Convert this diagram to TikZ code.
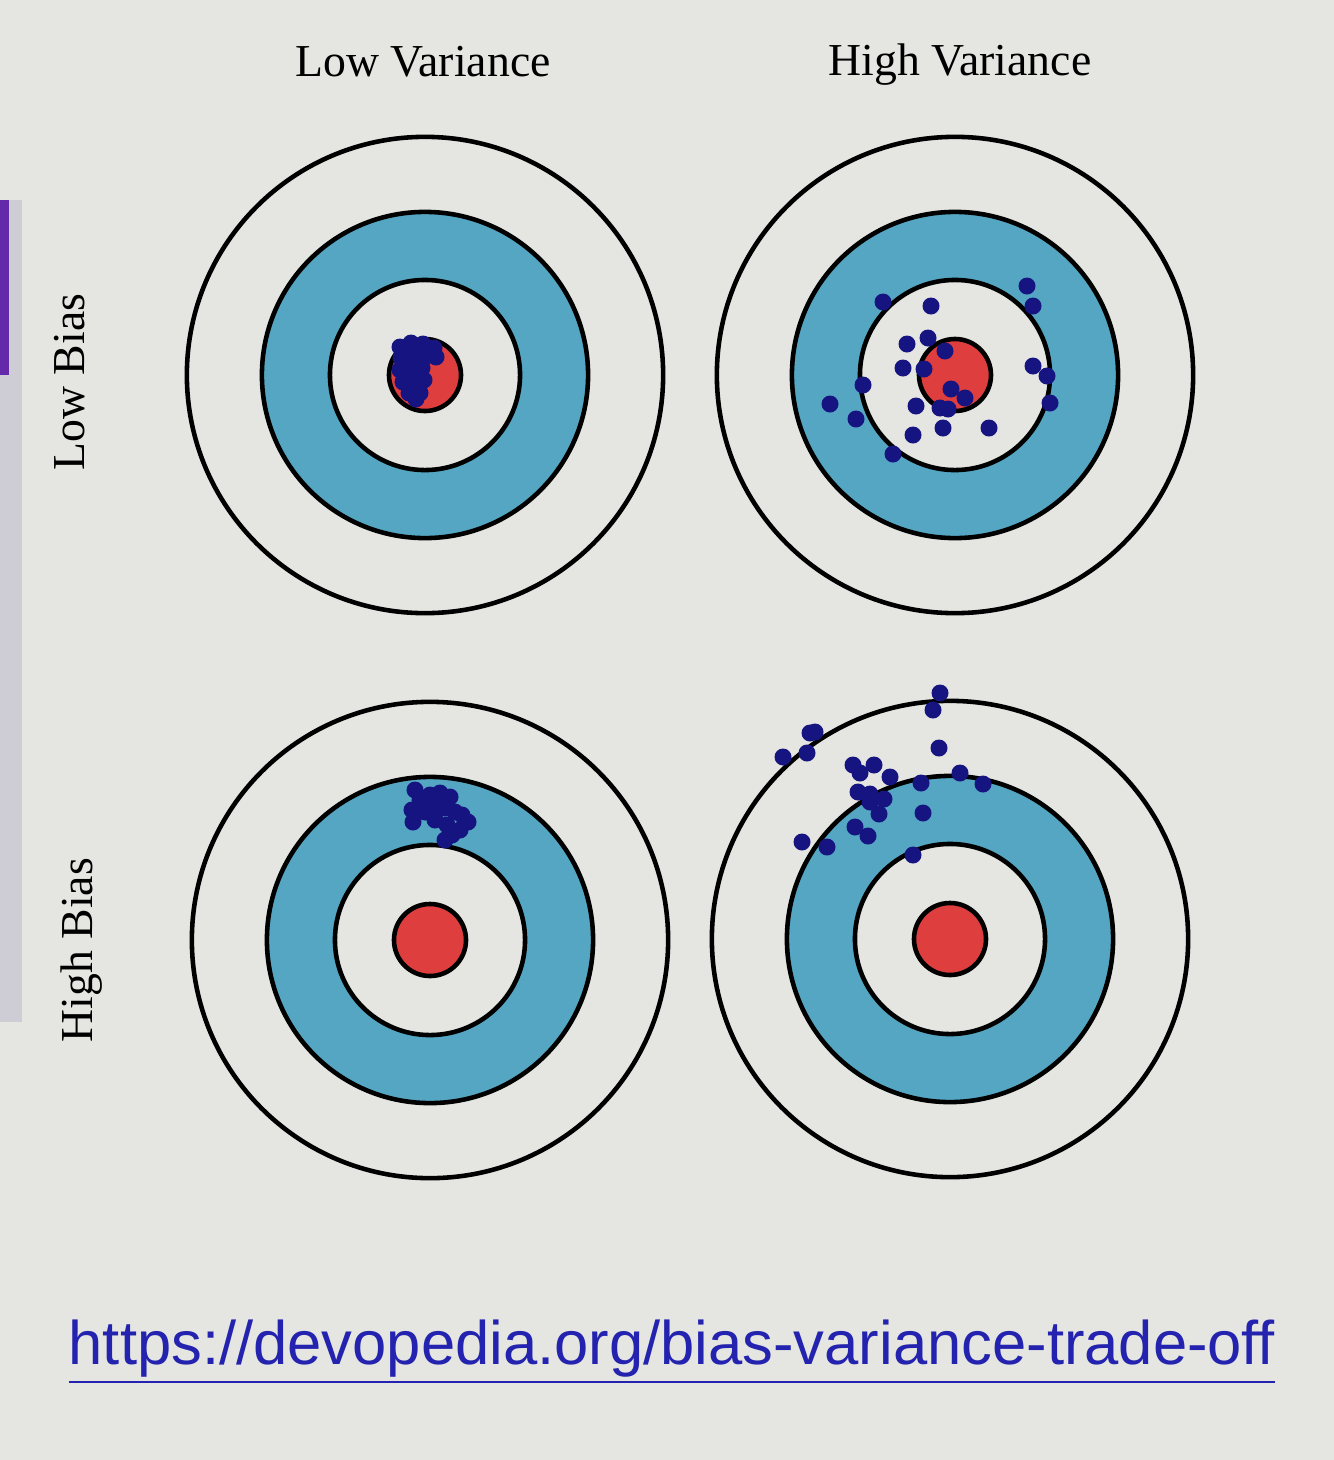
\documentclass[tikz,border=0pt]{standalone}
\usepackage{fontspec}
\setmainfont{Liberation Serif}
\newfontfamily\urlfont{Liberation Sans}
\usepackage{xcolor}
\definecolor{screengray}{RGB}{229,229,225}
\definecolor{ringblue}{RGB}{84,166,194}
\definecolor{bullred}{RGB}{222,62,62}
\definecolor{shotblue}{RGB}{22,20,128}
\definecolor{linkblue}{RGB}{35,35,175}
\definecolor{sidepurple}{RGB}{100,40,170}
\definecolor{sidegray}{RGB}{206,204,212}
\usetikzlibrary{positioning}

\begin{document}
\begin{tikzpicture}[
    x=0.01cm, y=-0.01cm,
    ring/.style={draw=black, line width=1.3pt},
    shot/.style={circle, fill=shotblue, inner sep=0pt, minimum size=0.17cm},
    axislabel/.style={font=\fontsize{13}{15}\selectfont, text=black}
  ]

  %% Screen background
  \fill[screengray] (0,0) rectangle (1334,1460);
  \useasboundingbox (0,0) rectangle (1334,1460);
  \fill[sidegray] (0,200) rectangle (22,1022);
  \fill[sidepurple] (0,200) rectangle (9,375);

  %% Targets
  \foreach \t/\cx/\cy in {tl/425/375, tr/955/375, bl/430/940, br/950/939} {
    \coordinate (\t) at (\cx,\cy);
    \draw[ring, fill=screengray] (\t) circle[radius=2.38cm];
    \draw[ring, fill=ringblue] (\t) circle[radius=1.63cm];
    \draw[ring, fill=screengray] (\t) circle[radius=0.95cm];
    \draw[ring, fill=bullred] (\t) circle[radius=0.36cm];
  }

  %% Low bias, low variance
  \foreach \p [count=\i] in {(400,347),(411,343),(423,344),(434,348),
      (401,358),(413,356),(425,357),(436,357),(400,370),(411,368),
      (422,368),(403,382),(415,380),(424,380),(409,393),(420,393),(416,399)}
    \node[shot] (tlshot\i) at \p {};

  %% Low bias, high variance
  \foreach \p [count=\i] in {(883,302),(931,306),(1027,286),(1033,306),
      (907,344),(928,338),(945,351),(903,368),(924,369),(1033,366),
      (1047,376),(863,385),(951,389),(965,398),(830,404),(1050,403),
      (916,406),(940,408),(948,409),(856,419),(943,428),(989,428),
      (913,435),(893,454)}
    \node[shot] (trshot\i) at \p {};

  %% High bias, low variance
  \foreach \p [count=\i] in {(415,790),(420,800),(430,795),(440,793),
      (450,797),(445,808),(455,812),(462,815),(468,822),(460,830),
      (452,835),(445,840),(413,822),(412,810),(425,812),(435,820),
      (447,825),(423,800),(437,805)}
    \node[shot] (blshot\i) at \p {};

  %% High bias, high variance
  \foreach \p [count=\i] in {(940,693),(933,710),(815,732),(810,733),
      (783,757),(807,753),(939,748),(853,765),(874,765),(860,773),
      (890,777),(921,783),(960,773),(983,784),(858,792),(870,794),
      (870,802),(884,799),(879,814),(923,813),(855,827),(868,836),
      (802,842),(827,847),(913,855)}
    \node[shot] (brshot\i) at \p {};

  %% Labels
  \node[axislabel] (lowvar) at (423,62) {Low Variance};
  \node[axislabel] (highvar) at (960,65) {High Variance};
  \node[axislabel, rotate=90] (lowbias) at (70,382) {Low Bias};
  \node[axislabel, rotate=90] (highbias) at (82,950) {High Bias};

  %% Source link
  \node[font=\urlfont\fontsize{17.5}{20}\selectfont, text=linkblue]
    (link) at (672,1352) {\underline{https://devopedia.org/bias-variance-trade-off}};

\end{tikzpicture}
\end{document}
